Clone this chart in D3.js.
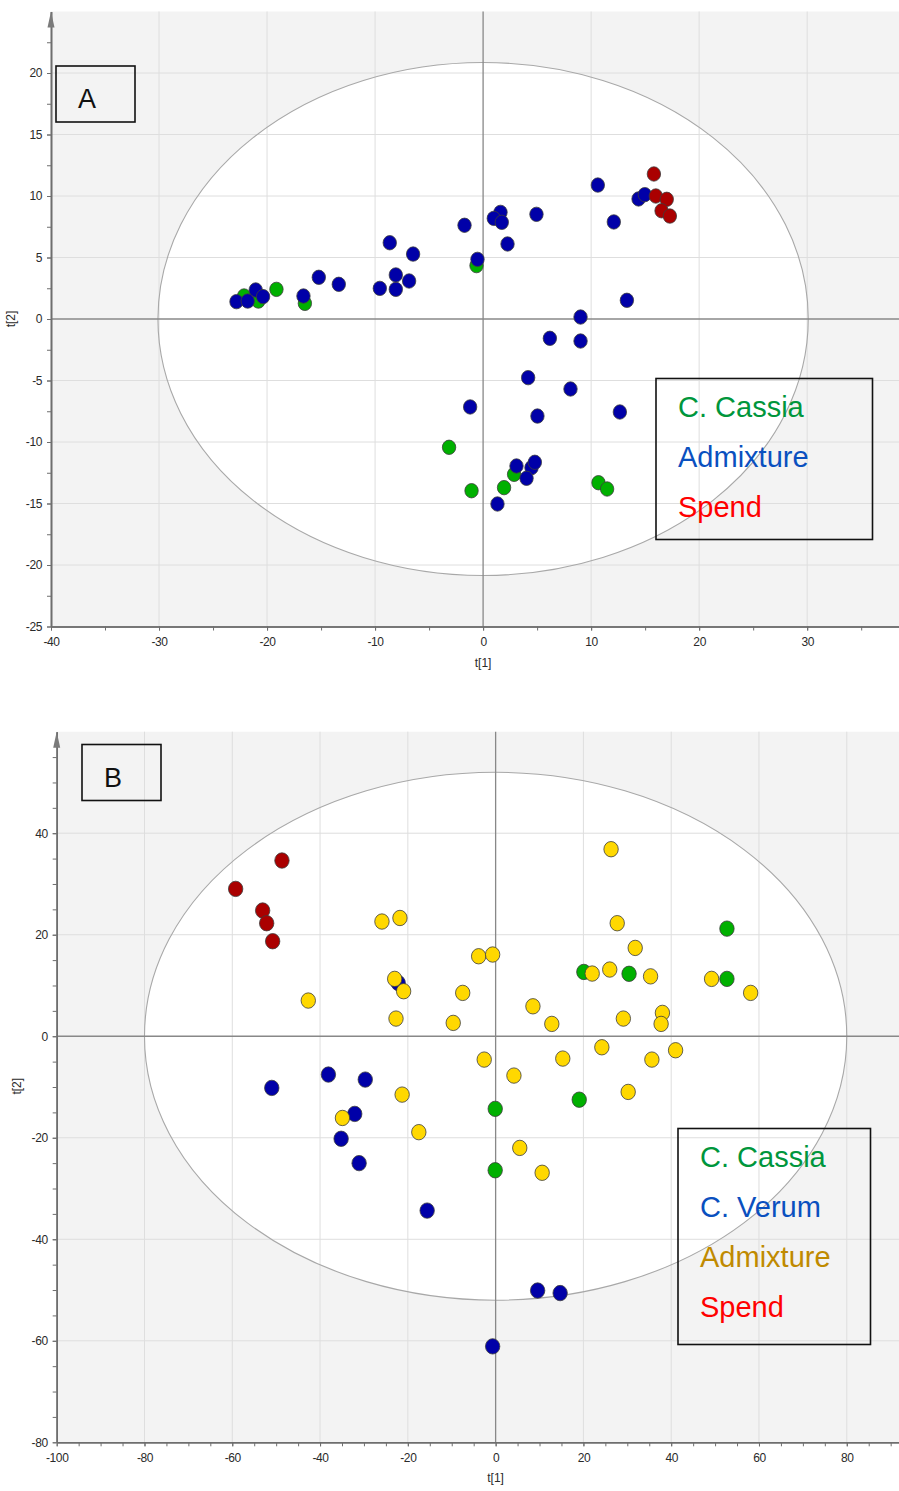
<!DOCTYPE html>
<html>
<head>
<meta charset="utf-8">
<script src="https://cdn.jsdelivr.net/npm/d3@7"></script>
<style>
  html, body { margin: 0; padding: 0; background: #ffffff; }
  svg { display: block; }
  .tick text { font-family: "Liberation Sans", Arial, sans-serif; font-size: 12px; fill: #2a2a2a; }
</style>
</head>
<body>
<svg id="chart" width="899" height="1491"></svg>
<script>
// ---- Panel A: score plot (t[1] vs t[2]) ----
const aCassia = [
  [-16.5, 1.27], [-19.13, 2.41], [-22.13, 1.87], [-20.8, 1.46], [-0.61, 4.34],
  [-3.15, -10.43], [2.87, -12.63], [-1.07, -13.96], [1.94, -13.71],
  [10.68, -13.31], [11.48, -13.82]
];
const aAdmixture = [
  [-8.64, 6.2], [-6.48, 5.28], [-8.08, 3.58], [-6.85, 3.09], [-9.56, 2.49],
  [-8.08, 2.41], [-13.36, 2.82], [-15.21, 3.39], [-16.63, 1.87], [-21.05, 2.36],
  [-20.37, 1.82], [-22.83, 1.41], [-21.79, 1.46],
  [10.62, 10.89], [14.39, 9.76], [14.97, 10.11], [12.1, 7.89], [4.94, 8.51],
  [1.61, 8.67], [0.99, 8.18], [1.73, 7.86], [-1.72, 7.62], [2.26, 6.1],
  [-0.52, 4.85], [13.31, 1.52], [9.02, 0.16],
  [6.18, -1.57], [9.02, -1.79], [4.17, -4.77], [8.09, -5.69], [-1.2, -7.15],
  [5.03, -7.89], [12.66, -7.56], [4.48, -12.09], [3.09, -11.95], [4.79, -11.65],
  [4.02, -12.95], [1.33, -15.04]
];
const aSpend = [
  [15.81, 11.79], [15.99, 10.0], [17.0, 9.73], [16.52, 8.8], [17.29, 8.37]
];
const aLegend = ["C. Cassia", "Admixture", "Spend"];

// ---- Panel B: score plot (t[1] vs t[2]) ----
const bCassia = [
  [52.7, 21.2], [20.1, 12.67], [30.4, 12.3], [52.7, 11.3],
  [19.05, -12.5], [-0.09, -14.3], [-0.1, -26.4]
];
const bVerum = [
  [-22.2, 10.5], [-51.0, -10.18], [-38.1, -7.55], [-29.7, -8.54],
  [-32.1, -15.3], [-35.2, -20.2], [-31.1, -25.0], [-15.6, -34.35],
  [9.57, -50.1], [14.7, -50.6], [-0.68, -61.1]
];
const bAdmixture = [
  [-25.9, 22.6], [-21.8, 23.3], [-23.0, 11.3], [-20.96, 8.87], [-42.68, 7.03],
  [-22.7, 3.48], [-9.66, 2.63], [-21.3, -11.5], [-34.9, -16.1], [-17.5, -18.9],
  [26.3, 36.85], [27.7, 22.27], [31.8, 17.4], [-3.87, 15.76], [-0.68, 16.1],
  [22.0, 12.35], [26.0, 13.14], [35.3, 11.8], [49.2, 11.3], [58.1, 8.54],
  [-7.5, 8.54], [8.5, 5.9], [12.8, 2.43], [29.1, 3.48], [38.0, 4.6],
  [37.7, 2.43], [-2.6, -4.6], [24.2, -2.17], [41.0, -2.76], [15.3, -4.4],
  [35.6, -4.6], [4.17, -7.75], [30.2, -10.97], [5.5, -22.0], [10.6, -26.9]
];
const bSpend = [
  [-48.68, 34.62], [-59.23, 29.03], [-53.08, 24.77], [-52.16, 22.27], [-50.8, 18.72]
];
const bLegend = ["C. Cassia", "C. Verum", "Admixture", "Spend"];

// Axis tick values
const aXTicks = [-40, -30, -20, -10, 0, 10, 20, 30];
const aYTicks = [-25, -20, -15, -10, -5, 0, 5, 10, 15, 20];
const bXTicks = [-100, -80, -60, -40, -20, 0, 20, 40, 60, 80];
const bYTicks = [-80, -60, -40, -20, 0, 20, 40];

const svg = d3.select("#chart");
const FONT = '"Liberation Sans", Arial, sans-serif';
const plain = d => String(d);   // hyphen-minus, as the plotting software prints it

function panel(cfg) {
  const x = d3.scaleLinear().domain(cfg.xDomain).range([cfg.left, cfg.right]);
  const y = d3.scaleLinear().domain(cfg.yDomain).range([cfg.bottom, cfg.top]);
  const g = svg.append("g");

  // plot background (outside the confidence ellipse)
  g.append("rect")
    .attr("x", cfg.left).attr("y", cfg.top)
    .attr("width", cfg.right - cfg.left).attr("height", cfg.bottom - cfg.top)
    .attr("fill", "#f3f3f3");

  // Hotelling ellipse interior
  g.append("ellipse")
    .attr("cx", x(0)).attr("cy", y(0))
    .attr("rx", x(cfg.ellipse[0]) - x(0))
    .attr("ry", y(0) - y(cfg.ellipse[1]))
    .attr("fill", "#ffffff");

  // grid lines
  const gx = cfg.xTicks.filter(v => v !== 0 && v !== cfg.xDomain[0]);
  const gy = cfg.yTicks.filter(v => v !== 0 && v !== cfg.yDomain[0]);
  g.selectAll(null).data(gx).join("line")
    .attr("x1", d => x(d)).attr("x2", d => x(d))
    .attr("y1", cfg.top).attr("y2", cfg.bottom)
    .attr("stroke", "#dedede").attr("stroke-width", 1);
  g.selectAll(null).data(gy).join("line")
    .attr("x1", cfg.left).attr("x2", cfg.right)
    .attr("y1", d => y(d)).attr("y2", d => y(d))
    .attr("stroke", "#dedede").attr("stroke-width", 1);

  // ellipse outline
  g.append("ellipse")
    .attr("cx", x(0)).attr("cy", y(0))
    .attr("rx", x(cfg.ellipse[0]) - x(0))
    .attr("ry", y(0) - y(cfg.ellipse[1]))
    .attr("fill", "none").attr("stroke", "#a8a8a8").attr("stroke-width", 1.1);

  // zero lines
  g.append("line").attr("x1", x(0)).attr("x2", x(0))
    .attr("y1", cfg.top).attr("y2", cfg.bottom)
    .attr("stroke", "#888888").attr("stroke-width", 1.3);
  g.append("line").attr("x1", cfg.left).attr("x2", cfg.right)
    .attr("y1", y(0)).attr("y2", y(0))
    .attr("stroke", "#888888").attr("stroke-width", 1.3);

  // axes: minor ticks then labelled major ticks
  const xMinor = d3.axisBottom(x).tickValues(d3.range(cfg.xDomain[0], cfg.xDomain[1], cfg.xMinor))
    .tickSize(4).tickFormat("").tickSizeOuter(0);
  const xMajor = d3.axisBottom(x).tickValues(cfg.xTicks).tickSize(4).tickSizeOuter(0)
    .tickPadding(7).tickFormat(plain);
  const yMinor = d3.axisLeft(y).tickValues(d3.range(cfg.yDomain[0], cfg.yDomain[1], cfg.yMinor))
    .tickSize(4).tickFormat("").tickSizeOuter(0);
  const yMajor = d3.axisLeft(y).tickValues(cfg.yTicks).tickSize(4).tickSizeOuter(0)
    .tickPadding(5).tickFormat(plain);

  [xMinor, xMajor].forEach(ax => {
    const a = g.append("g").attr("transform", `translate(0,${cfg.bottom})`).call(ax);
    a.select(".domain").attr("stroke", "#6e6e6e").attr("stroke-width", 1.6);
    a.selectAll(".tick line").attr("stroke", "#6e6e6e");
  });
  [yMinor, yMajor].forEach(ax => {
    const a = g.append("g").attr("transform", `translate(${cfg.left},0)`).call(ax);
    a.select(".domain").attr("stroke", "#6e6e6e").attr("stroke-width", 1.6);
    a.selectAll(".tick line").attr("stroke", "#6e6e6e");
  });
  g.selectAll(".tick text").attr("letter-spacing", "-0.4px");

  // arrow head at the top of the vertical axis
  g.append("path")
    .attr("d", `M${cfg.left - 3.5},${cfg.top + 16} L${cfg.left},${cfg.top} L${cfg.left + 3.5},${cfg.top + 16} Z`)
    .attr("fill", "#7a7a7a");

  // axis titles
  g.append("text").attr("x", x(0)).attr("y", cfg.bottom + 40)
    .attr("text-anchor", "middle").attr("font-family", FONT).attr("font-size", 12)
    .attr("fill", "#2a2a2a").text("t[1]");
  g.append("text")
    .attr("transform", `translate(${cfg.left - 36},${(y(0) + cfg.yTitleShift)}) rotate(-90)`)
    .attr("text-anchor", "middle").attr("font-family", FONT).attr("font-size", 12)
    .attr("fill", "#2a2a2a").text("t[2]");

  // scatter groups, drawn in order
  cfg.groups.forEach(grp => {
    g.selectAll(null).data(grp.data).join("ellipse")
      .attr("cx", d => x(d[0])).attr("cy", d => y(d[1]))
      .attr("rx", cfg.rx).attr("ry", cfg.ry)
      .attr("fill", grp.fill).attr("stroke", "#3c3c3c").attr("stroke-width", 0.8);
  });

  // panel label box
  g.append("rect")
    .attr("x", cfg.tag.x).attr("y", cfg.tag.y).attr("width", 79).attr("height", 56)
    .attr("fill", "none").attr("stroke", "#111").attr("stroke-width", 1.6);
  g.append("text").attr("x", cfg.tag.x + 31).attr("y", cfg.tag.y + 42)
    .attr("text-anchor", "middle").attr("font-family", FONT).attr("font-size", 27)
    .attr("fill", "#111").text(cfg.tag.text);

  // legend
  const L = cfg.legend;
  g.append("rect")
    .attr("x", L.x).attr("y", L.y).attr("width", L.w).attr("height", L.h)
    .attr("fill", "none").attr("stroke", "#111").attr("stroke-width", 1.6);
  g.selectAll(null).data(L.items).join("text")
    .attr("x", L.x + 22).attr("y", (d, i) => L.y + L.first + i * 50)
    .attr("font-family", FONT).attr("font-size", 29)
    .attr("fill", (d, i) => L.colors[i]).text(d => d);
}

panel({
  xDomain: [-40, 38.5], yDomain: [-25, 25],
  left: 51, right: 899, top: 11.5, bottom: 626.5,
  xTicks: aXTicks, yTicks: aYTicks, xMinor: 5, yMinor: 2.5,
  ellipse: [30.1, 20.85], yTitleShift: 0,
  rx: 6.7, ry: 7.2,
  groups: [
    { data: aCassia, fill: "#00b000" },
    { data: aAdmixture, fill: "#0000a8" },
    { data: aSpend, fill: "#aa0000" }
  ],
  tag: { x: 56, y: 66, text: "A" },
  legend: { x: 656, y: 378.5, w: 216.5, h: 161, first: 38, items: aLegend,
            colors: ["#00963c", "#0a50bf", "#ff0000"] }
});

panel({
  xDomain: [-100, 91.9], yDomain: [-80, 60],
  left: 56.7, right: 899, top: 731.7, bottom: 1442.3,
  xTicks: bXTicks, yTicks: bYTicks, xMinor: 5, yMinor: 5,
  ellipse: [80, 52], yTitleShift: 50,
  rx: 7.2, ry: 7.7,
  groups: [
    { data: bCassia, fill: "#00b000" },
    { data: bVerum, fill: "#0000a8" },
    { data: bAdmixture, fill: "#ffd800" },
    { data: bSpend, fill: "#aa0000" }
  ],
  tag: { x: 82, y: 744.5, text: "B" },
  legend: { x: 678, y: 1128.5, w: 192.5, h: 216, first: 38, items: bLegend,
            colors: ["#00963c", "#0a50bf", "#c08a00", "#ff0000"] }
});
</script>
</body>
</html>
